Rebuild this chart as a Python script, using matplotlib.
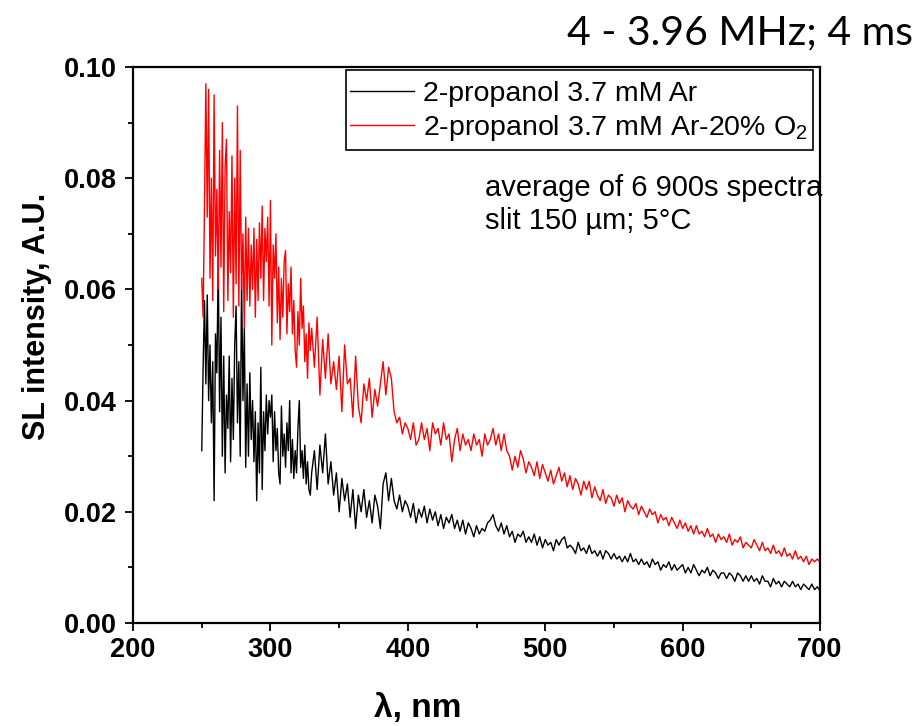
"""Sonoluminescence spectra of 2-propanol, Ar vs Ar-20% O2."""

import numpy as np
import matplotlib
matplotlib.use("Agg")
import matplotlib.pyplot as plt
from matplotlib.patches import Rectangle
from matplotlib.ticker import MultipleLocator, FormatStrFormatter

plt.rcParams["font.family"] = "Liberation Sans"
plt.rcParams["mathtext.fontset"] = "custom"
plt.rcParams["mathtext.rm"] = "Liberation Sans"
plt.rcParams["mathtext.it"] = "Liberation Sans:italic"
plt.rcParams["mathtext.bf"] = "Liberation Sans:bold"

# intensities, in units of 1e-3 A.U.
# fine part: 250..329 nm, 1 nm step
ar_fine = [
    31, 46, 58, 43, 59, 40, 50, 36, 47, 22,
    52, 45, 65, 38, 55, 30, 48, 27, 41, 35,
    48, 29, 44, 33, 50, 57, 36, 47, 30, 62,
    40, 53, 28, 43, 30, 45, 33, 40, 29, 38,
    22, 36, 27, 46, 24, 38, 31, 41, 34, 40,
    37, 41, 29, 38, 31, 35, 27, 25, 39, 30,
    34, 28, 36, 31, 40, 27, 33, 26, 31, 27,
    35, 40, 28, 31, 26, 32, 25, 29, 24, 23,
]
o2_fine = [
    62, 55, 75, 97, 73, 96, 62, 80, 58, 95,
    66, 78, 60, 85, 64, 90, 56, 82, 87, 58,
    74, 63, 84, 55, 80, 61, 93, 57, 85, 60,
    70, 53, 73, 58, 71, 57, 68, 60, 71, 55,
    69, 58, 72, 62, 75, 58, 71, 65, 73, 57,
    76, 50, 68, 62, 70, 54, 64, 51, 62, 55,
    65, 67, 52, 61, 56, 64, 52, 58, 49, 46,
    56, 50, 62, 53, 57, 47, 52, 44, 54, 49,
]

# coarse part: 330..700 nm, 2 nm step (one row = 20 nm)
ar_coarse = [
    27, 31, 24, 32, 27, 34, 25, 29, 23, 27,
    20, 26, 22, 25, 19, 24, 17, 23, 20, 24,
    19, 22, 18, 23, 21, 17, 25, 27, 22, 26,
    22, 20.5, 23, 20, 22, 21, 19, 21.5, 18, 20.5,
    19, 21, 18, 20.5, 18.5, 20, 17.5, 19.5, 17, 19,
    18, 19.5, 17, 18.5, 16.5, 18.5, 16, 18, 17, 15.5,
    17.5, 16, 17, 16.5, 18, 18.5, 19.5, 17.5, 16.5, 18,
    16, 17.5, 15.5, 16.5, 14.5, 16, 15.5, 16.5, 14.5, 15.5,
    14.5, 16, 14, 15.5, 13.5, 15, 14, 14.5, 13, 15,
    14, 15, 15.5, 13.5, 14, 13.5, 12.5, 14.5, 13, 13.5,
    12.5, 14, 12.5, 13, 12, 13, 11.5, 13, 12.5, 11.5,
    12.5, 11.5, 12, 11, 12, 11, 12.5, 11, 11.5, 10.5,
    11.5, 10.5, 11, 10, 11.5, 10.5, 11, 9.5, 10.5, 10,
    11, 9.5, 10.5, 9.5, 10, 10.5, 9, 10, 9, 10.5,
    9.5, 8.5, 9.5, 9, 10, 8.5, 9.5, 9, 8, 9,
    9, 8, 9, 8.5, 7.5, 9, 8.5, 7.5, 8.5, 7.5,
    8.5, 7.5, 8, 7, 8.5, 7.5, 7.5, 6.5, 8, 7,
    7.5, 6.5, 7.5, 7, 6.5, 7.5, 6.5, 7, 6, 7,
    6.5, 6, 7, 6, 6.5, 5.8,
]
o2_coarse = [
    53, 46, 55, 41, 51, 44, 52, 43, 47, 42,
    48, 38, 50, 43, 44, 37, 48, 39, 36, 43,
    40, 44, 37, 42, 39, 43, 47, 41, 46, 44,
    38, 36, 37, 34, 36, 35, 33, 36, 32, 33,
    36, 33, 35, 31, 36, 34, 35, 32, 36, 33,
    34, 29, 33, 35, 31, 34, 32, 33, 31, 34,
    32, 33, 30, 34, 32, 33, 35, 32, 34, 31,
    34, 31, 30, 27.5, 30, 28, 31, 29.5, 27, 29,
    28, 26.5, 29, 26, 28.5, 27, 25.5, 27.5, 25, 26.5,
    28, 25.5, 27, 24.5, 26.5, 24, 26, 25, 23, 25.5,
    24, 25.5, 22.5, 24.5, 23, 22, 24, 21.5, 23, 22.5,
    21, 23, 21.5, 22.5, 20, 22, 21, 20.5, 21.5, 19.5,
    21, 20, 19, 20.5, 19.5, 20, 18, 19.5, 18.5, 19,
    17.5, 19, 18, 17, 18.5, 17, 18, 16.5, 17.5, 16,
    17.5, 16, 16.5, 15.5, 17, 15.5, 16, 14.5, 16, 15,
    15.5, 14.5, 16, 14, 15, 14.5, 15.5, 13.5, 14.5, 14,
    13.5, 15, 14, 13, 14.5, 13, 13.5, 12.5, 14, 12.5,
    13, 12, 13.5, 12, 12.5, 11.5, 13, 11.5, 12, 11,
    12, 10.5, 11.5, 11, 11.5, 11,
]

wl = np.concatenate([
    np.arange(250, 250 + len(ar_fine)),
    np.arange(330, 330 + 2 * len(ar_coarse), 2),
])
ar = np.array(ar_fine + ar_coarse) * 1e-3
o2 = np.array(o2_fine + o2_coarse) * 1e-3

fig = plt.figure(figsize=(9.22, 7.26), dpi=100)
ax = fig.add_axes([0.1443, 0.1419, 0.7451, 0.7658])

ax.plot(wl, ar, color="black", lw=1.0, label="2-propanol 3.7 mM Ar")
ax.plot(wl, o2, color="#ff0000", lw=1.0, label="2-propanol 3.7 mM Ar-20% O$_2$")

ax.set_xlim(200, 700)
ax.set_ylim(0, 0.10)
ax.xaxis.set_major_locator(MultipleLocator(100))
ax.xaxis.set_minor_locator(MultipleLocator(50))
ax.yaxis.set_major_locator(MultipleLocator(0.02))
ax.yaxis.set_minor_locator(MultipleLocator(0.01))
ax.yaxis.set_major_formatter(FormatStrFormatter("%.2f"))

ax.tick_params(which="major", direction="out", length=6, width=1.3,
               labelsize=19.5, pad=4)
ax.tick_params(which="minor", direction="out", length=3.5, width=1.3)
ax.tick_params(axis="y", which="major", pad=6)
for lab in ax.get_xticklabels() + ax.get_yticklabels():
    lab.set_fontweight("bold")
for sp in ax.spines.values():
    sp.set_linewidth(1.6)

ax.set_xlabel("λ, nm", fontsize=24, fontweight="bold", va="center")
ax.xaxis.set_label_coords(0.415, -0.153)
ax.set_ylabel("SL intensity, A.U.", fontsize=22, fontweight="bold", va="center")
ax.yaxis.set_label_coords(-0.14, 0.552)

# legend box drawn separately so its padding can differ per side
ax.add_patch(Rectangle((0.310, 0.8507), 0.6798, 0.1439, transform=ax.transAxes,
                       fill=False, edgecolor="black", lw=1.2, zorder=5))
leg = ax.legend(loc="upper left", bbox_to_anchor=(0.3159, 0.975),
                borderaxespad=0, fontsize=20.5, frameon=False,
                handlelength=2.25, handletextpad=0.32, labelspacing=0.2,
                borderpad=0)

ax.text(0.513, 0.7527, "average of 6 900s spectra\nslit 150 µm; 5°C",
        transform=ax.transAxes, fontsize=21, va="center", ha="left",
        linespacing=1.25)

fig.text(0.990, 0.9545, "4 - 3.96 MHz; 4 ms", family="Lato", fontsize=29.5,
         ha="right", va="center")

fig.savefig("out.png", dpi=100)
